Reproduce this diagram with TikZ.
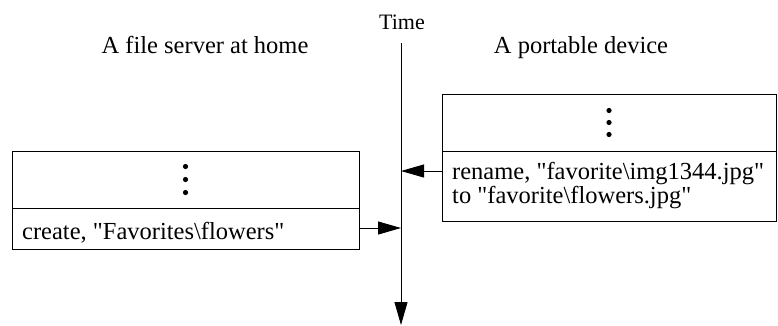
\documentclass[tikz,border=0pt]{standalone}
\usepackage{fontspec}
\setmainfont{Liberation Serif}
\usetikzlibrary{arrows.meta,calc}
\newcommand\dq{\textquotedbl}
\newcommand\bs{\textbackslash}
\begin{document}
\begin{tikzpicture}[x=1pt,y=-1pt,
  cell/.style={draw, line width=0.9pt, inner sep=0pt, outer sep=0pt, minimum width=#1},
  lbl/.style={font=\fontsize{24.5}{24}\selectfont, anchor=base, inner sep=0pt},
  body/.style={font=\fontsize{24.5}{24}\selectfont, align=left, anchor=base west, inner sep=0pt},
  head/.style={-{Triangle[length=23pt,width=13pt]}, line width=0.9pt},
  dot/.style={fill=black}]
\useasboundingbox (0,0) rectangle (778,325);
% headings
\node[lbl, font=\fontsize{22}{22}\selectfont] (time) at (402,29) {Time};
\node[lbl] (home) at (205,53) {A file server at home};
\node[lbl] (dev) at (581,53) {A portable device};
% time axis
\coordinate (t0) at (401,43);
\coordinate (t1) at (401,325);
\draw[head] (t0) -- (t1);
% file server log
\node[cell=347pt, minimum height=57pt] (lt) at (185.5,179.5) {};
\node[cell=347pt, minimum height=41pt] (lb) at (185.5,228.5) {};
\node[body] (ltext) at (22,239) {create, \dq Favorites\bs flowers\dq};
\foreach \dy in {-13,0,13} \fill[dot] ($(lt.center)+(0,\dy)$) circle (2.6);
% portable device log
\node[cell=334pt, minimum height=57pt] (rt) at (609,122.5) {};
\node[cell=334pt, minimum height=70pt] (rb) at (609,186) {};
\node[body] (rtext) at (452,203) {rename, \dq favorite\bs img1344.jpg\dq\\to \dq favorite\bs flowers.jpg\dq};
\foreach \dy in {-12,0,12} \fill[dot] ($(rt.center)+(0,\dy)$) circle (2.6);
% events sent to the timeline
\coordinate (lin) at (401,228);
\coordinate (rin) at (401,171);
\draw[head] (lb.east |- lin) -- (lin);
\draw[head] (rb.west |- rin) -- (rin);
\end{tikzpicture}
\end{document}
